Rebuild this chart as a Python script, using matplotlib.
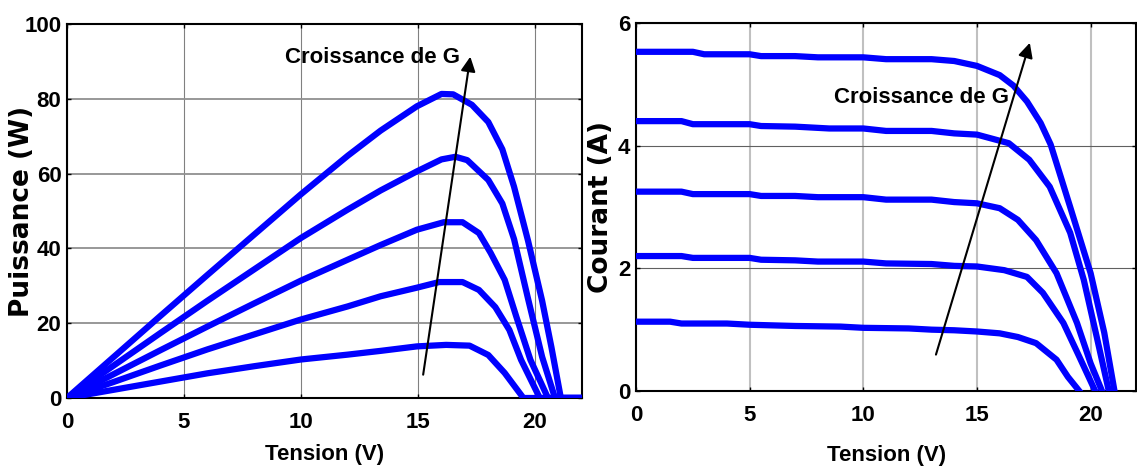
import matplotlib
matplotlib.use("Agg")
import matplotlib.pyplot as plt

# P-V curves (left), one list pair per irradiance level
p_v1 = [0, 2, 4, 6, 8, 10, 12, 13.4, 14.95, 16.2, 17.2, 18.0, 18.7, 19.5, 22]
p_p1 = [0, 2.2, 4.4, 6.6, 8.5, 10.3, 11.6, 12.6, 13.8, 14.2, 14.0, 11.5, 6.7, 0, 0]
p_v2 = [0, 2, 4, 6, 8, 10, 12, 13.4, 14.95, 15.9, 16.9, 17.6, 18.3, 18.9, 19.4, 20.2, 22]
p_p2 = [0, 4.3, 8.7, 13.0, 17.0, 21.0, 24.5, 27.2, 29.5, 31.0, 31.0, 28.9, 24.3, 18.2, 10.2, 0, 0]
p_v3 = [0, 2, 4, 6, 8, 10, 12, 13.4, 14.95, 16.1, 16.9, 17.6, 18.1, 18.7, 19.2, 19.8, 20.55, 22]
p_p3 = [0, 6.4, 12.8, 19.1, 25.3, 31.4, 37.0, 40.9, 45.0, 47.0, 47.0, 44.1, 38.8, 31.6, 21.7, 10.2, 0, 0]
p_v4 = [0, 2, 4, 6, 8, 10, 12, 13.4, 14.95, 16.0, 16.6, 17.1, 18.0, 18.6, 19.1, 19.7, 20.3, 20.85, 22]
p_p4 = [0, 8.7, 17.4, 26.0, 34.4, 42.8, 50.4, 55.5, 60.6, 63.8, 64.5, 63.6, 58.3, 52.0, 42.5, 26.5, 11.0, 0, 0]
p_v5 = [0, 2, 4, 6, 8, 10, 12, 13.4, 14.95, 16.0, 16.5, 17.3, 18.0, 18.6, 19.1, 19.7, 20.3, 20.7, 21.1, 22]
p_p5 = [0, 11.0, 22.0, 32.9, 43.7, 54.5, 64.8, 71.5, 78.0, 81.3, 81.2, 78.4, 73.8, 66.5, 56.5, 42.0, 26.0, 13.5, 0, 0]

# I-V curves (right)
i_v1 = [0, 1.5, 2, 4, 5, 7, 9, 10, 12, 13, 14, 15, 16, 16.8, 17.6, 18.5, 19.0, 19.5]
i_i1 = [1.13, 1.13, 1.10, 1.10, 1.08, 1.06, 1.05, 1.03, 1.02, 1.00, 0.99, 0.97, 0.94, 0.88, 0.78, 0.51, 0.23, 0.0]
i_v2 = [0, 2, 2.5, 5, 5.5, 7, 8, 10, 11, 13, 14, 15, 16.2, 17.2, 17.9, 18.8, 19.5, 20.2]
i_i2 = [2.20, 2.20, 2.17, 2.17, 2.14, 2.13, 2.11, 2.11, 2.08, 2.07, 2.04, 2.03, 1.97, 1.86, 1.60, 1.11, 0.56, 0.0]
i_v3 = [0, 2, 2.5, 5, 5.5, 7, 8, 10, 11, 13, 14, 15, 16, 16.8, 17.6, 18.5, 19.4, 20.0, 20.5]
i_i3 = [3.25, 3.25, 3.21, 3.21, 3.18, 3.18, 3.16, 3.16, 3.12, 3.12, 3.08, 3.06, 2.98, 2.79, 2.46, 1.92, 1.11, 0.45, 0.0]
i_v4 = [0, 2, 2.5, 5, 5.5, 7, 8.5, 10, 11, 13, 14, 15, 16.4, 17.3, 18.2, 19.1, 19.7, 20.3, 20.8]
i_i4 = [4.40, 4.40, 4.35, 4.35, 4.32, 4.31, 4.28, 4.28, 4.24, 4.24, 4.20, 4.18, 4.04, 3.77, 3.33, 2.58, 1.81, 0.83, 0.0]
i_v5 = [0, 2.5, 3, 5, 5.5, 7, 8, 10, 11, 13, 14, 15, 16, 16.6, 17.2, 17.8, 18.24, 19.1, 20.0, 20.6, 21.05]
i_i5 = [5.53, 5.53, 5.49, 5.49, 5.46, 5.46, 5.44, 5.44, 5.41, 5.41, 5.38, 5.30, 5.15, 4.98, 4.72, 4.37, 4.02, 3.0, 1.92, 0.95, 0.0]

x_ticks = [0, 5, 10, 15, 20]
p_ticks = [0, 20, 40, 60, 80, 100]
i_ticks = [0, 2, 4, 6]

SANS = ["Liberation Sans", "DejaVu Sans"]
BLUE = "#0000ff"
LW = 4.5

fig = plt.figure(figsize=(11.37, 4.70), dpi=100)
ax1 = fig.add_axes([0.0589, 0.1532, 0.4529, 0.7957])
ax2 = fig.add_axes([0.5594, 0.1681, 0.4398, 0.7830])

for v, p in [(p_v1, p_p1), (p_v2, p_p2), (p_v3, p_p3), (p_v4, p_p4), (p_v5, p_p5)]:
    ax1.plot(v, p, color=BLUE, lw=LW, solid_joinstyle="round", zorder=3)
for v, i in [(i_v1, i_i1), (i_v2, i_i2), (i_v3, i_i3), (i_v4, i_i4), (i_v5, i_i5)]:
    ax2.plot(v, i, color=BLUE, lw=LW, solid_joinstyle="round", zorder=3)

ax1.set_xlim(0, 22)
ax1.set_ylim(0, 100)
ax2.set_xlim(0, 22)
ax2.set_ylim(0, 6)
ax1.set_yticks(p_ticks)
ax2.set_yticks(i_ticks)

for ax in (ax1, ax2):
    ax.set_xticks(x_ticks)
    ax.tick_params(direction="in", top=True, right=True, length=3, width=1)
    ax.tick_params(axis="x", pad=10)
    ax.tick_params(axis="y", pad=4)
    for lab in ax.get_xticklabels() + ax.get_yticklabels():
        lab.set_family(SANS)
        lab.set_fontweight("bold")
        lab.set_fontsize(16)
    for s in ax.spines.values():
        s.set_linewidth(1.5)

# MATLAB-like grid colours
ax1.grid(axis="x", color="#808080", lw=0.8)
ax1.grid(axis="y", color="#909090", lw=1.3)
ax2.grid(axis="x", color="#c0c0c0", lw=1.5)
ax2.grid(axis="y", color="#606060", lw=0.8)
ax1.set_axisbelow(True)
ax2.set_axisbelow(True)

ax1.set_xlabel("Tension (V)", family=SANS, fontweight="bold", fontsize=16, va="center")
ax1.xaxis.set_label_coords(0.5, -0.15)
ax2.set_xlabel("Tension (V)", family=SANS, fontweight="bold", fontsize=16, va="center")
ax2.xaxis.set_label_coords(0.5, -0.174)
ax1.set_ylabel("Puissance (W)", family="DejaVu Sans", fontweight="bold", fontsize=19, va="center")
ax1.yaxis.set_label_coords(-0.087, 0.5)
ax2.set_ylabel("Courant (A)", family="DejaVu Sans", fontweight="bold", fontsize=19, va="center")
ax2.yaxis.set_label_coords(-0.07, 0.5)

# "Croissance de G" arrows
ax1.annotate("", xy=(17.25, 92), xytext=(15.2, 5.5),
             arrowprops=dict(arrowstyle="-|>", color="black", lw=1.5, mutation_scale=22))
ax1.text(13.05, 91, "Croissance de G", family=SANS, fontweight="bold", fontsize=16,
         ha="center", va="center")
ax2.annotate("", xy=(17.36, 5.72), xytext=(13.16, 0.55),
             arrowprops=dict(arrowstyle="-|>", color="black", lw=1.5, mutation_scale=22))
ax2.text(12.55, 4.79, "Croissance de G", family=SANS, fontweight="bold", fontsize=16,
         ha="center", va="center")

fig.savefig("out.png", dpi=100)
